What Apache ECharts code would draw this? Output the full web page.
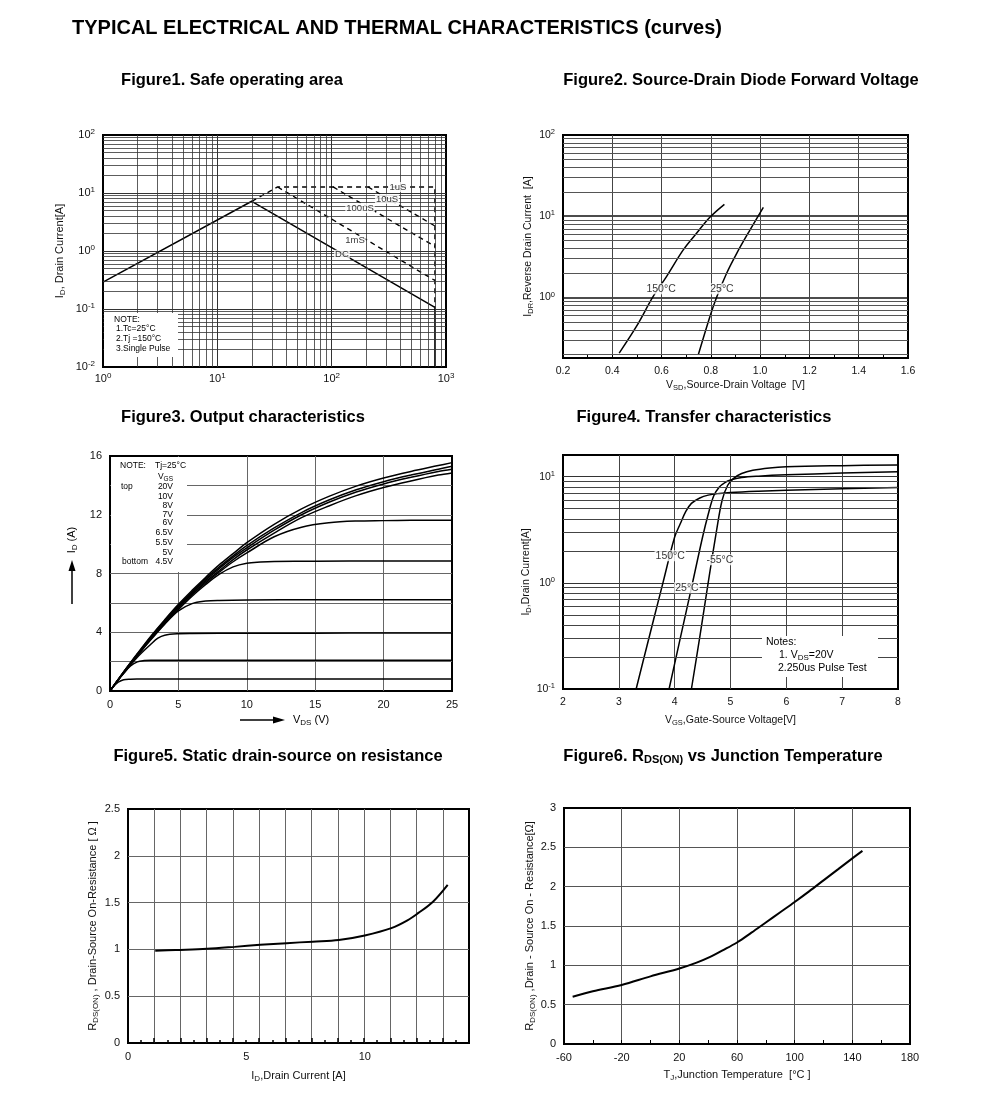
<!DOCTYPE html>
<html>
<head>
<meta charset="utf-8">
<script src="https://cdn.jsdelivr.net/npm/echarts@6/dist/echarts.min.js"></script>
<style>
html,body{margin:0;padding:0;background:#fff;}
#chart{width:991px;height:1099px;}
</style>
</head>
<body>
<div id="chart"></div>
<script>
// ================= DATA =================
// Figure 1: Safe operating area  [V_DS (V), I_D (A)]
const soaDC    = [[1, 0.29], [20, 7.2], [800, 0.107], [800, 0.01]];
const soa1us   = [[20, 7.2], [33.7, 12.7], [800, 12.7], [800, 0.107]];
const soa10us  = [[208, 12.7], [800, 2.7]];
const soa100us = [[103, 12.7], [800, 1.2]];
const soa1ms   = [[33.7, 12.7], [800, 0.31]];
const soaLabelText = ['1uS', '10uS', '100uS', '1mS', 'DC'];
const soaLabelPos  = [[380, 12.7], [305, 7.9], [177, 5.5], [160, 1.5], [123, 0.86]];

// Figure 2: Source-drain diode forward voltage [V_SD (V), I_DR (A)]
const vsd150 = [[0.428, 0.207], [0.498, 0.44], [0.566, 1.03], [0.62, 1.81], [0.688, 3.85], [0.742, 6.17], [0.796, 9.7], [0.855, 14.0]];
const vsd25  = [[0.749, 0.197], [0.796, 0.58], [0.823, 1.0], [0.864, 1.99], [0.905, 3.5], [0.959, 6.8], [1.013, 12.9]];
const vsdLabelText = ['150°C', '25°C'];
const vsdLabelPos  = [[0.598, 1.28], [0.845, 1.28]];

// Figure 3: Output characteristics [V_DS (V), I_D (A)]
const outTopX = [0, 1, 2, 3, 4, 5, 6, 7, 8, 9, 10, 12, 14, 16, 18, 20, 22, 24, 25];
const out20V  = [0, 1.3, 2.55, 3.75, 4.85, 5.9, 6.85, 7.75, 8.6, 9.35, 10.1, 11.35, 12.4, 13.25, 13.95, 14.5, 14.95, 15.35, 15.55];
const out10V  = [0, 1.3, 2.5, 3.7, 4.8, 5.8, 6.75, 7.65, 8.45, 9.2, 9.9, 11.1, 12.15, 13.0, 13.7, 14.25, 14.7, 15.1, 15.3];
const out8V   = [0, 1.3, 2.5, 3.65, 4.75, 5.75, 6.7, 7.55, 8.35, 9.1, 9.75, 10.95, 12.0, 12.85, 13.55, 14.1, 14.55, 14.95, 15.1];
const out7V   = [0, 1.25, 2.45, 3.6, 4.7, 5.7, 6.6, 7.45, 8.2, 8.95, 9.6, 10.75, 11.8, 12.6, 13.3, 13.85, 14.3, 14.7, 14.85];
const out6p5V = [0, 1.25, 2.45, 3.6, 4.65, 5.65, 6.55, 7.35, 8.1, 8.8, 9.4, 10.5, 11.15, 11.45, 11.57, 11.6, 11.62, 11.63, 11.63];
const out6VX  = [0, 1, 2, 3, 4, 5, 6, 7, 8, 9, 10, 11, 12, 15, 20, 25];
const out6V   = [0, 1.25, 2.4, 3.55, 4.6, 5.55, 6.45, 7.25, 7.95, 8.45, 8.7, 8.78, 8.82, 8.84, 8.85, 8.85];
const out5p5VX = [0, 1, 2, 3, 4, 5, 6, 7, 8, 10, 15, 20, 25];
const out5p5V  = [0, 1.25, 2.4, 3.5, 4.55, 5.45, 5.95, 6.12, 6.17, 6.2, 6.21, 6.22, 6.22];
const out5VX  = [0, 1, 2, 3, 3.5, 4, 5, 6, 10, 15, 20, 25];
const out5V   = [0, 1.2, 2.3, 3.2, 3.6, 3.8, 3.9, 3.92, 3.93, 3.94, 3.95, 3.95];
const out4p5VX = [0, 0.5, 1, 1.5, 2, 2.5, 3, 5, 10, 15, 20, 25];
const out4p5V  = [0, 0.65, 1.2, 1.7, 1.98, 2.07, 2.1, 2.1, 2.1, 2.1, 2.1, 2.1];
const outLowX = [0, 0.3, 0.6, 1, 1.5, 2, 5, 10, 15, 20, 25];
const outLow  = [0, 0.35, 0.6, 0.76, 0.8, 0.81, 0.82, 0.82, 0.82, 0.82, 0.82];

// Figure 4: Transfer characteristics [V_GS (V), I_D (A)]
const tr150 = [[3.31, 0.1], [3.5, 0.25], [3.79, 1.0], [4.0, 2.7], [4.1, 3.6], [4.2, 4.7], [4.3, 5.6], [4.45, 6.3], [4.6, 6.7], [4.8, 6.95], [5.0, 7.1], [5.5, 7.3], [6, 7.45], [7, 7.7], [8, 7.9]];
const tr25  = [[3.9, 0.1], [4.1, 0.3], [4.32, 1.0], [4.5, 2.7], [4.6, 4.4], [4.7, 6.6], [4.8, 8.0], [4.9, 8.8], [5.0, 9.3], [5.2, 9.8], [5.5, 10.1], [6, 10.4], [7, 10.8], [8, 11.15]];
const trM55 = [[4.3, 0.1], [4.45, 0.31], [4.6, 1.0], [4.75, 3.1], [4.85, 6.0], [4.95, 8.3], [5.05, 9.6], [5.2, 10.7], [5.4, 11.5], [5.7, 12.1], [6, 12.4], [7, 12.7], [8, 12.9]];
const trLabelText = ['150°C', '25°C', '-55°C'];
const trLabelPos  = [[3.92, 1.8], [4.22, 0.9], [4.81, 1.65]];

// Figure 5: R_DS(on) vs I_D
const rdsId = [1.15, 2, 3.33, 4.5, 5.58, 6.7, 7.8, 8.9, 10, 11.12, 11.8, 12.25, 12.88, 13.5];
const rdsR  = [0.985, 0.993, 1.006, 1.027, 1.049, 1.067, 1.083, 1.10, 1.149, 1.227, 1.31, 1.387, 1.51, 1.69];

// Figure 6: R_DS(on) vs T_J
const tjC  = [-54, -40, -20, 0, 20, 32, 41, 50, 60, 70, 80, 90, 100, 110, 120, 130, 140, 147];
const tjR  = [0.60, 0.67, 0.75, 0.86, 0.96, 1.035, 1.105, 1.19, 1.29, 1.415, 1.545, 1.675, 1.805, 1.94, 2.08, 2.22, 2.36, 2.455];

// Tick label lists
const fig5XLabels = [0, 5, 10];

// ================= HELPERS =================
const FONT = '"Liberation Sans", Arial, Helvetica, sans-serif';
const zip = (xs, ys) => xs.map((x, i) => [x, ys[i]]);
const steps = [2, 3, 4, 5, 6, 7, 8, 9];
const decadeLines = (decs) => decs.flatMap(d => steps.map(s => +(s * d).toPrecision(3)));

function logLabel(v) {
  const l = Math.log10(v);
  const e = Math.round(l);
  if (Math.abs(l - e) > 1e-6) return '';
  return '10{sup|' + e + '}';
}
const supRich = (fs) => ({ sup: { fontSize: fs, lineHeight: fs, verticalAlign: 'top', fontFamily: FONT, color: '#111' } });

function gridLines(xs, ys, color, width) {
  return {
    silent: true, symbol: ['none', 'none'], animation: false,
    label: { show: false }, emphasis: { disabled: true },
    lineStyle: { type: 'solid', color: color, width: width },
    data: [].concat(xs.map(v => ({ xAxis: v })), ys.map(v => ({ yAxis: v })))
  };
}

function lineSeries(name, xi, yi, data, extra) {
  return Object.assign({
    name: name, type: 'line', xAxisIndex: xi, yAxisIndex: yi, data: data,
    showSymbol: false, symbol: 'none', silent: true, z: 3,
    lineStyle: { color: '#000', width: 1.5 }
  }, extra || {});
}

function labelSeries(xi, yi, pos, texts, fs) {
  return {
    type: 'scatter', xAxisIndex: xi, yAxisIndex: yi, silent: true, z: 5,
    symbolSize: 1, itemStyle: { color: 'rgba(0,0,0,0)' },
    data: pos.map((p, i) => ({ value: p, name: texts[i] })),
    label: { show: true, position: 'inside', formatter: '{b}', color: '#000', fontSize: fs,
             fontFamily: FONT, backgroundColor: '#fff', padding: [0, 1] }
  };
}

const baseLabel = (fs) => ({ color: '#111', fontSize: fs, fontFamily: FONT });
const split = (color, width) => ({ show: true, showMinLine: false, showMaxLine: false, lineStyle: { color: color, width: width } });
const nameStyle = (fs) => ({ color: '#111', fontSize: fs, fontFamily: FONT,
  rich: { sub: { fontSize: fs - 3, lineHeight: 8, verticalAlign: 'bottom', fontFamily: FONT, color: '#111' } }, lineHeight: 14 });

// ================= OPTION =================
const gridBase = { show: true, borderColor: '#000', borderWidth: 2, backgroundColor: 'transparent', containLabel: false };
const SM = 0.35;

const option = {
  animation: false,
  textStyle: { fontFamily: FONT },
  grid: [
    Object.assign({ left: 103, top: 135, width: 343, height: 232 }, gridBase),
    Object.assign({ left: 563, top: 135, width: 345, height: 223 }, gridBase),
    Object.assign({ left: 110, top: 456, width: 342, height: 235 }, gridBase),
    Object.assign({ left: 563, top: 455, width: 335, height: 234 }, gridBase),
    Object.assign({ left: 128, top: 809, width: 341, height: 234 }, gridBase),
    Object.assign({ left: 564, top: 808, width: 346, height: 236 }, gridBase)
  ],
  xAxis: [
    // 0: fig1
    { type: 'log', gridIndex: 0, min: 1, max: 1000, logBase: 10,
      axisLine: { show: false }, axisTick: { show: false },
      axisLabel: Object.assign(baseLabel(11), { formatter: logLabel, lineHeight: 14, margin: 5, rich: supRich(8) }),
      splitLine: split('#333', 1) },
    // 1: fig2
    { type: 'value', gridIndex: 1, min: 0.2, max: 1.6, interval: 0.2,
      axisLine: { show: false },
      axisTick: { show: true, inside: true, length: 4, lineStyle: { color: '#000' } },
      minorTick: { show: true, splitNumber: 2, length: 3, lineStyle: { color: '#000' } },
      axisLabel: Object.assign(baseLabel(10.5), { formatter: v => v.toFixed(1) }),
      splitLine: split('#444', 1),
      name: 'V{sub|SD},Source-Drain Voltage  [V]', nameLocation: 'middle', nameGap: 18, nameTextStyle: nameStyle(10.5) },
    // 2: fig3
    { type: 'value', gridIndex: 2, min: 0, max: 25, interval: 5,
      axisLine: { show: false }, axisTick: { show: false },
      axisLabel: baseLabel(11), splitLine: split('#666', 1) },
    // 3: fig4
    { type: 'value', gridIndex: 3, min: 2, max: 8, interval: 1,
      axisLine: { show: false }, axisTick: { show: false },
      axisLabel: baseLabel(10.5), splitLine: split('#444', 1),
      name: 'V{sub|GS},Gate-Source Voltage[V]', nameLocation: 'middle', nameGap: 24, nameTextStyle: nameStyle(10.5) },
    // 4: fig5 label axis
    { type: 'value', gridIndex: 4, min: 0, max: 14.4, interval: 5,
      axisLine: { show: false }, axisTick: { show: false },
      axisLabel: Object.assign(baseLabel(11), { formatter: v => (fig5XLabels.indexOf(v) >= 0 ? String(v) : '') }),
      splitLine: { show: false },
      name: 'I{sub|D},Drain Current [A]', nameLocation: 'middle', nameGap: 26, nameTextStyle: nameStyle(11) },
    // 5: fig5 grid axis
    { type: 'value', gridIndex: 4, min: 0, max: 13, interval: 1, position: 'bottom',
      axisLine: { show: false },
      axisTick: { show: true, inside: true, length: 5, lineStyle: { color: '#000', width: 1.5 } },
      minorTick: { show: true, splitNumber: 2, length: 3, lineStyle: { color: '#000', width: 1.5 } },
      axisLabel: { show: false }, splitLine: split('#666', 1) },
    // 6: fig6
    { type: 'value', gridIndex: 5, min: -60, max: 180, interval: 40,
      axisLine: { show: false },
      axisTick: { show: true, inside: true, length: 4, lineStyle: { color: '#000' } },
      minorTick: { show: true, splitNumber: 2, length: 4, lineStyle: { color: '#000' } },
      axisLabel: baseLabel(11), splitLine: split('#555', 1),
      name: 'T{sub|J},Junction Temperature  [°C ]', nameLocation: 'middle', nameGap: 24, nameTextStyle: nameStyle(11) }
  ],
  yAxis: [
    // 0: fig1
    { type: 'log', gridIndex: 0, min: 0.01, max: 100, logBase: 10,
      axisLine: { show: false }, axisTick: { show: false },
      axisLabel: Object.assign(baseLabel(11), { formatter: logLabel, lineHeight: 14, rich: supRich(8) }),
      splitLine: split('#333', 1),
      name: 'I{sub|D}, Drain Current[A]', nameLocation: 'middle', nameGap: 36, nameTextStyle: nameStyle(11) },
    // 1: fig2
    { type: 'log', gridIndex: 1, min: 0.18, max: 100, logBase: 10,
      axisLine: { show: false }, axisTick: { show: false },
      axisLabel: Object.assign(baseLabel(10.5), { formatter: logLabel, lineHeight: 14, rich: supRich(7.5) }),
      splitLine: split('#111', 1.6),
      name: 'I{sub|DR},Reverse Drain Current  [A]', nameLocation: 'middle', nameGap: 26, nameTextStyle: nameStyle(10.5) },
    // 2: fig3
    { type: 'value', gridIndex: 2, min: 0, max: 16, interval: 2,
      axisLine: { show: false }, axisTick: { show: false },
      axisLabel: Object.assign(baseLabel(11), { formatter: v => (v % 4 === 0 ? String(v) : '') }),
      splitLine: split('#666', 1) },
    // 3: fig4
    { type: 'log', gridIndex: 3, min: 0.1, max: 16, logBase: 10,
      axisLine: { show: false }, axisTick: { show: false },
      axisLabel: Object.assign(baseLabel(10.5), { formatter: logLabel, lineHeight: 14, rich: supRich(7.5) }),
      splitLine: split('#333', 1),
      name: 'I{sub|D},Drain Current[A]', nameLocation: 'middle', nameGap: 21, nameTextStyle: nameStyle(10.5) },
    // 4: fig5
    { type: 'value', gridIndex: 4, min: 0, max: 2.5, interval: 0.5,
      axisLine: { show: false }, axisTick: { show: false },
      axisLabel: baseLabel(11), splitLine: split('#666', 1),
      name: 'R{sub|DS(ON)} , Drain-Source On-Resistance [ Ω ]', nameLocation: 'middle', nameGap: 28, nameTextStyle: nameStyle(11) },
    // 5: fig6
    { type: 'value', gridIndex: 5, min: 0, max: 3, interval: 0.5,
      axisLine: { show: false }, axisTick: { show: false },
      axisLabel: baseLabel(11), splitLine: split('#555', 1),
      name: 'R{sub|DS(ON)} ,Drain - Source On - Resistance[Ω]', nameLocation: 'middle', nameGap: 27, nameTextStyle: nameStyle(11) }
  ],
  series: [
    // ---- Figure 1 ----
    lineSeries('DC', 0, 0, soaDC, {
      markLine: gridLines(decadeLines([1, 10, 100]), decadeLines([0.01, 0.1, 1, 10]), '#333', 0.8) }),
    lineSeries('1uS', 0, 0, soa1us, { lineStyle: { color: '#000', width: 1.4, type: [5, 4] } }),
    lineSeries('10uS', 0, 0, soa10us, { lineStyle: { color: '#000', width: 1.4, type: [5, 4] } }),
    lineSeries('100uS', 0, 0, soa100us, { lineStyle: { color: '#000', width: 1.4, type: [5, 4] } }),
    lineSeries('1mS', 0, 0, soa1ms, { lineStyle: { color: '#000', width: 1.4, type: [5, 4] } }),
    labelSeries(0, 0, soaLabelPos, soaLabelText, 9.5),
    // ---- Figure 2 ----
    lineSeries('150°C', 1, 1, vsd150, { smooth: SM,
      markLine: gridLines([], decadeLines([0.1, 1, 10]).filter(v => v > 0.18 && v < 100 && v !== 1 && v !== 10), '#555', 1) }),
    lineSeries('25°C', 1, 1, vsd25, { smooth: SM }),
    labelSeries(1, 1, vsdLabelPos, vsdLabelText, 10.5),
    // ---- Figure 3 ----
    lineSeries('VGS 20V', 2, 2, zip(outTopX, out20V), { smooth: SM }),
    lineSeries('VGS 10V', 2, 2, zip(outTopX, out10V), { smooth: SM }),
    lineSeries('VGS 8V', 2, 2, zip(outTopX, out8V), { smooth: SM }),
    lineSeries('VGS 7V', 2, 2, zip(outTopX, out7V), { smooth: SM }),
    lineSeries('VGS 6.5V', 2, 2, zip(outTopX, out6p5V), { smooth: SM }),
    lineSeries('VGS 6V', 2, 2, zip(out6VX, out6V), { smooth: SM }),
    lineSeries('VGS 5.5V', 2, 2, zip(out5p5VX, out5p5V), { smooth: SM }),
    lineSeries('VGS 5V', 2, 2, zip(out5VX, out5V), { smooth: SM }),
    lineSeries('VGS 4.5V', 2, 2, zip(out4p5VX, out4p5V), { smooth: SM }),
    lineSeries('VGS low', 2, 2, zip(outLowX, outLow), { smooth: SM }),
    // ---- Figure 4 ----
    lineSeries('150°C', 3, 3, tr150, { smooth: SM,
      markLine: gridLines([], decadeLines([0.1, 1]), '#444', 1) }),
    lineSeries('25°C', 3, 3, tr25, { smooth: SM }),
    lineSeries('-55°C', 3, 3, trM55, { smooth: SM }),
    labelSeries(3, 3, trLabelPos, trLabelText, 10.5),
    // ---- Figure 5 ----
    lineSeries('RDS(on)', 4, 4, zip(rdsId, rdsR), { smooth: SM, lineStyle: { color: '#000', width: 2 } }),
    // ---- Figure 6 ----
    lineSeries('RDS(on) vs Tj', 6, 5, zip(tjC, tjR), { smooth: SM, lineStyle: { color: '#000', width: 2 } })
  ],
  graphic: { elements: [] }
};

// ================= TEXT / ANNOTATIONS =================
const G = option.graphic.elements;
function txt(x, y, text, font, align, extra) {
  G.push(Object.assign({
    type: 'text', x: x, y: y, z: 100, silent: true,
    style: { text: text, font: font, fill: '#000', textAlign: align || 'left', textVerticalAlign: 'middle' }
  }, extra || {}));
}
function rect(x, y, w, h) {
  G.push({ type: 'rect', z: 99, silent: true, shape: { x: x, y: y, width: w, height: h }, style: { fill: '#fff' } });
}
const B15 = 'bold 16.5px ' + FONT;

txt(72, 28, 'TYPICAL ELECTRICAL AND THERMAL CHARACTERISTICS (curves)', 'bold 20px ' + FONT);
txt(232, 80, 'Figure1. Safe operating area', B15, 'center');
txt(741, 80, 'Figure2. Source-Drain Diode Forward Voltage', B15, 'center');
txt(243, 417, 'Figure3. Output characteristics', B15, 'center');
txt(704, 417, 'Figure4. Transfer characteristics', B15, 'center');
txt(278, 756, 'Figure5. Static drain-source on resistance', B15, 'center');
G.push({ type: 'text', x: 723, y: 756, z: 100, silent: true,
  style: { text: 'Figure6. R{sub|DS(ON)} vs Junction Temperature', font: B15, fill: '#000',
    textAlign: 'center', textVerticalAlign: 'middle', lineHeight: 19,
    rich: { sub: { font: 'bold 11px ' + FONT, fill: '#000', lineHeight: 11, verticalAlign: 'bottom' } } } });

// Figure 1 note
rect(104, 313, 74, 44);
const F8 = '8.5px ' + FONT;
txt(114, 320, 'NOTE:', F8);
txt(116, 329, '1.Tc=25°C', F8);
txt(116, 339, '2.Tj =150°C', F8);
txt(116, 349, '3.Single Pulse', F8);

// Figure 3 note
rect(111, 457, 76, 115);
txt(120, 466, 'NOTE:', F8);
txt(155, 466, 'Tj=25°C', F8);
G.push({ type: 'text', x: 173, y: 477, z: 100, silent: true,
  style: { text: 'V{sub|GS}', font: F8, fill: '#000', textAlign: 'right', textVerticalAlign: 'middle', lineHeight: 12,
    rich: { sub: { font: '6.5px ' + FONT, fill: '#000', lineHeight: 7, verticalAlign: 'bottom' } } } });
txt(121, 487, 'top', F8);
const fig3Legend = [['20V', 487], ['10V', 496.5], ['8V', 505.5], ['7V', 514.5], ['6V', 523], ['6.5V', 532.5], ['5.5V', 542.5], ['5V', 552.5], ['4.5V', 562]];
fig3Legend.forEach(p => txt(173, p[1], p[0], F8, 'right'));
txt(122, 562, 'bottom', F8);

// Figure 3 axis names with arrows
G.push({ type: 'text', x: 72, y: 540, z: 100, silent: true, rotation: Math.PI / 2,
  style: { text: 'I{sub|D} (A)', font: '11px ' + FONT, fill: '#000', textAlign: 'center', textVerticalAlign: 'middle', lineHeight: 14,
    rich: { sub: { font: '8px ' + FONT, fill: '#000', lineHeight: 8, verticalAlign: 'bottom' } } } });
G.push({ type: 'line', z: 100, silent: true, shape: { x1: 72, y1: 604, x2: 72, y2: 570 }, style: { stroke: '#000', lineWidth: 1.5 } });
G.push({ type: 'polygon', z: 100, silent: true, shape: { points: [[72, 560], [68.5, 571], [75.5, 571]] }, style: { fill: '#000' } });
G.push({ type: 'line', z: 100, silent: true, shape: { x1: 240, y1: 720, x2: 274, y2: 720 }, style: { stroke: '#000', lineWidth: 1.5 } });
G.push({ type: 'polygon', z: 100, silent: true, shape: { points: [[285, 720], [273, 716.5], [273, 723.5]] }, style: { fill: '#000' } });
G.push({ type: 'text', x: 293, y: 720, z: 100, silent: true,
  style: { text: 'V{sub|DS} (V)', font: '11px ' + FONT, fill: '#000', textAlign: 'left', textVerticalAlign: 'middle', lineHeight: 14,
    rich: { sub: { font: '8px ' + FONT, fill: '#000', lineHeight: 8, verticalAlign: 'bottom' } } } });

// Figure 4 note
rect(762, 636, 116, 41);
const F10 = '10.5px ' + FONT;
txt(766, 642, 'Notes:', F10);
G.push({ type: 'text', x: 779, y: 655, z: 100, silent: true,
  style: { text: '1. V{sub|DS}=20V', font: F10, fill: '#000', textAlign: 'left', textVerticalAlign: 'middle', lineHeight: 13,
    rich: { sub: { font: '8px ' + FONT, fill: '#000', lineHeight: 9, verticalAlign: 'bottom' } } } });
txt(778, 668, '2.250us Pulse Test', F10);

const chart = echarts.init(document.getElementById('chart'), null, { renderer: 'canvas' });
chart.setOption(option);
</script>
</body>
</html>
